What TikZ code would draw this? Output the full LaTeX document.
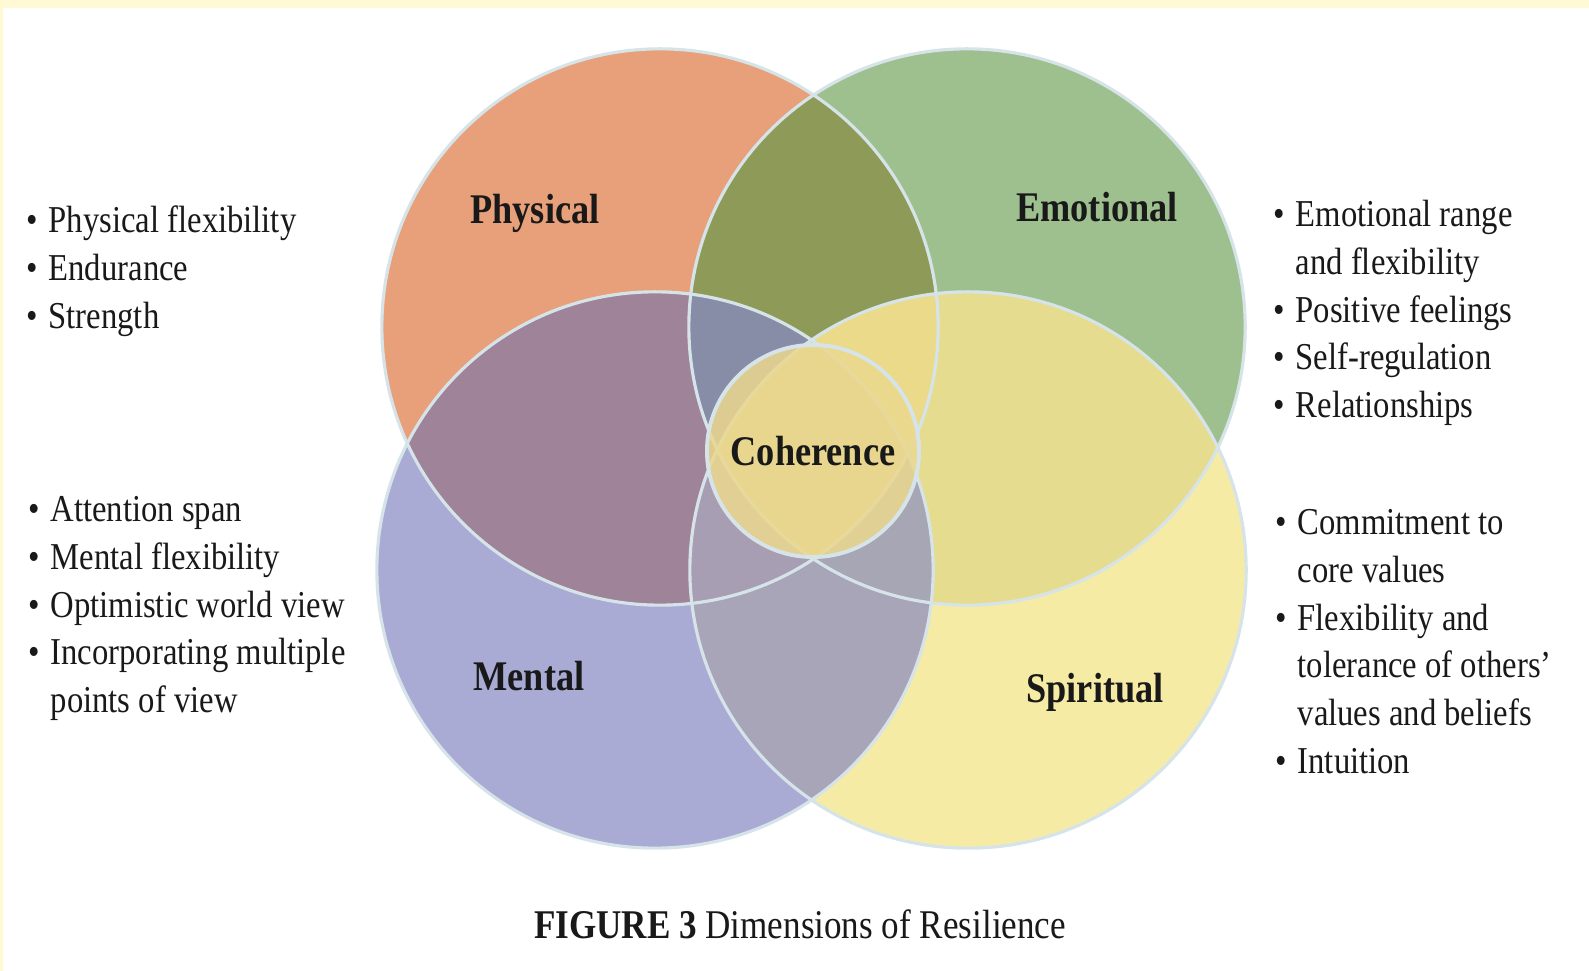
\documentclass[tikz,border=0pt]{standalone}
\usepackage{fontspec}
\setmainfont{Liberation Serif}[FakeStretch=0.86]
\usetikzlibrary{positioning}

\definecolor{frameyellow}{RGB}{255,249,212}
\definecolor{ringblue}{RGB}{214,228,234}
\definecolor{physorange}{RGB}{231,160,121}
\definecolor{emogreen}{RGB}{158,192,143}
\definecolor{mentlilac}{RGB}{169,171,212}
\definecolor{spiryellow}{RGB}{246,235,165}
\definecolor{peolive}{RGB}{142,154,87}
\definecolor{pmmauve}{RGB}{158,131,153}
\definecolor{esyellow}{RGB}{230,220,143}
\definecolor{msgrey}{RGB}{168,165,184}
\definecolor{pemslate}{RGB}{135,141,166}
\definecolor{pesgold}{RGB}{234,218,137}
\definecolor{pmsgrey}{RGB}{168,158,179}
\definecolor{emsgrey}{RGB}{166,166,180}
\definecolor{allfour}{RGB}{227,208,144}
\definecolor{cohfill}{RGB}{235,216,142}
\definecolor{textblack}{RGB}{25,25,25}

\newcommand{\vennrad}{2.78cm}

\tikzset{
    ring/.style={
        draw=ringblue,
        line width=0.9pt
    },
    dimname/.style={
        anchor=base,
        inner sep=0pt,
        text=textblack,
        font=\bfseries\fontsize{12}{14}\selectfont
    },
    itemlist/.style={
        anchor=base west,
        inner sep=0pt,
        text=textblack,
        font=\fontsize{10.8}{13.55}\selectfont
    }
}

\begin{document}
\begin{tikzpicture}[x=0.01cm, y=-0.01cm]
  % page with the thin yellow frame
  \fill[frameyellow] (0,0) rectangle (1589,971);
  \fill[white] (3,8) rectangle (1589,971);
  \useasboundingbox (0,0) rectangle (1589,971);

  % centres of the four circles
  \coordinate (phys) at (660,327);
  \coordinate (emo) at (967,327);
  \coordinate (ment) at (655,570);
  \coordinate (spir) at (968,570);

  % single circles
  \fill[physorange] (phys) circle[radius=\vennrad];
  \fill[emogreen] (emo) circle[radius=\vennrad];
  \fill[mentlilac] (ment) circle[radius=\vennrad];
  \fill[spiryellow] (spir) circle[radius=\vennrad];

  % two-way overlaps
  \begin{scope}
    \clip (phys) circle[radius=\vennrad];
    \fill[peolive] (emo) circle[radius=\vennrad];
    \fill[pmmauve] (ment) circle[radius=\vennrad];
  \end{scope}
  \begin{scope}
    \clip (spir) circle[radius=\vennrad];
    \fill[esyellow] (emo) circle[radius=\vennrad];
    \fill[msgrey] (ment) circle[radius=\vennrad];
  \end{scope}

  % three-way overlaps
  \begin{scope}
    \clip (phys) circle[radius=\vennrad];
    \clip (emo) circle[radius=\vennrad];
    \fill[pemslate] (ment) circle[radius=\vennrad];
    \fill[pesgold] (spir) circle[radius=\vennrad];
  \end{scope}
  \begin{scope}
    \clip (ment) circle[radius=\vennrad];
    \clip (spir) circle[radius=\vennrad];
    \fill[pmsgrey] (phys) circle[radius=\vennrad];
    \fill[emsgrey] (emo) circle[radius=\vennrad];
  \end{scope}

  % all four
  \begin{scope}
    \clip (phys) circle[radius=\vennrad];
    \clip (emo) circle[radius=\vennrad];
    \clip (ment) circle[radius=\vennrad];
    \fill[allfour] (spir) circle[radius=\vennrad];
  \end{scope}

  % outlines
  \draw[ring] (phys) circle[radius=\vennrad];
  \draw[ring] (emo) circle[radius=\vennrad];
  \draw[ring] (ment) circle[radius=\vennrad];
  \draw[ring] (spir) circle[radius=\vennrad];

  % centre circle
  \node[circle, minimum size=2.12cm, inner sep=0pt, fill=cohfill, fill opacity=0.85,
        draw=ringblue, line width=1.1pt, text opacity=1, text=textblack,
        font=\bfseries\fontsize{12}{14}\selectfont] (coh) at (813,451) {Coherence};

  % circle names
  \node[dimname] (physname) at (535,224) {Physical};
  \node[dimname] (emoname) at (1097,222) {Emotional};
  \node[dimname] (mentname) at (529,691) {Mental};
  \node[dimname] (spirname) at (1095,703) {Spiritual};

  % lists beside the circles
  \node[itemlist] (physlist) at (26,233) {%
    \begin{tabular}[t]{@{}l@{\hspace{3pt}}l@{}}
      \textbullet & Physical flexibility\\
      \textbullet & Endurance\\
      \textbullet & Strength
    \end{tabular}};
  \node[itemlist] (mentlist) at (28,522) {%
    \begin{tabular}[t]{@{}l@{\hspace{3pt}}l@{}}
      \textbullet & Attention span\\
      \textbullet & Mental flexibility\\
      \textbullet & Optimistic world view\\
      \textbullet & Incorporating multiple\\
                  & points of view
    \end{tabular}};
  \node[itemlist] (emolist) at (1273,227) {%
    \begin{tabular}[t]{@{}l@{\hspace{3pt}}l@{}}
      \textbullet & Emotional range\\
                  & and flexibility\\
      \textbullet & Positive feelings\\
      \textbullet & Self-regulation\\
      \textbullet & Relationships
    \end{tabular}};
  \node[itemlist] (spirlist) at (1275,535) {%
    \begin{tabular}[t]{@{}l@{\hspace{3pt}}l@{}}
      \textbullet & Commitment to\\
                  & core values\\
      \textbullet & Flexibility and\\
                  & tolerance of others'\\
                  & values and beliefs\\
      \textbullet & Intuition
    \end{tabular}};

  % caption
  \node[anchor=base, inner sep=0pt, text=textblack, font=\fontsize{11.6}{14}\selectfont]
    (caption) at (800,938) {\textbf{FIGURE 3} Dimensions of Resilience};
\end{tikzpicture}
\end{document}
